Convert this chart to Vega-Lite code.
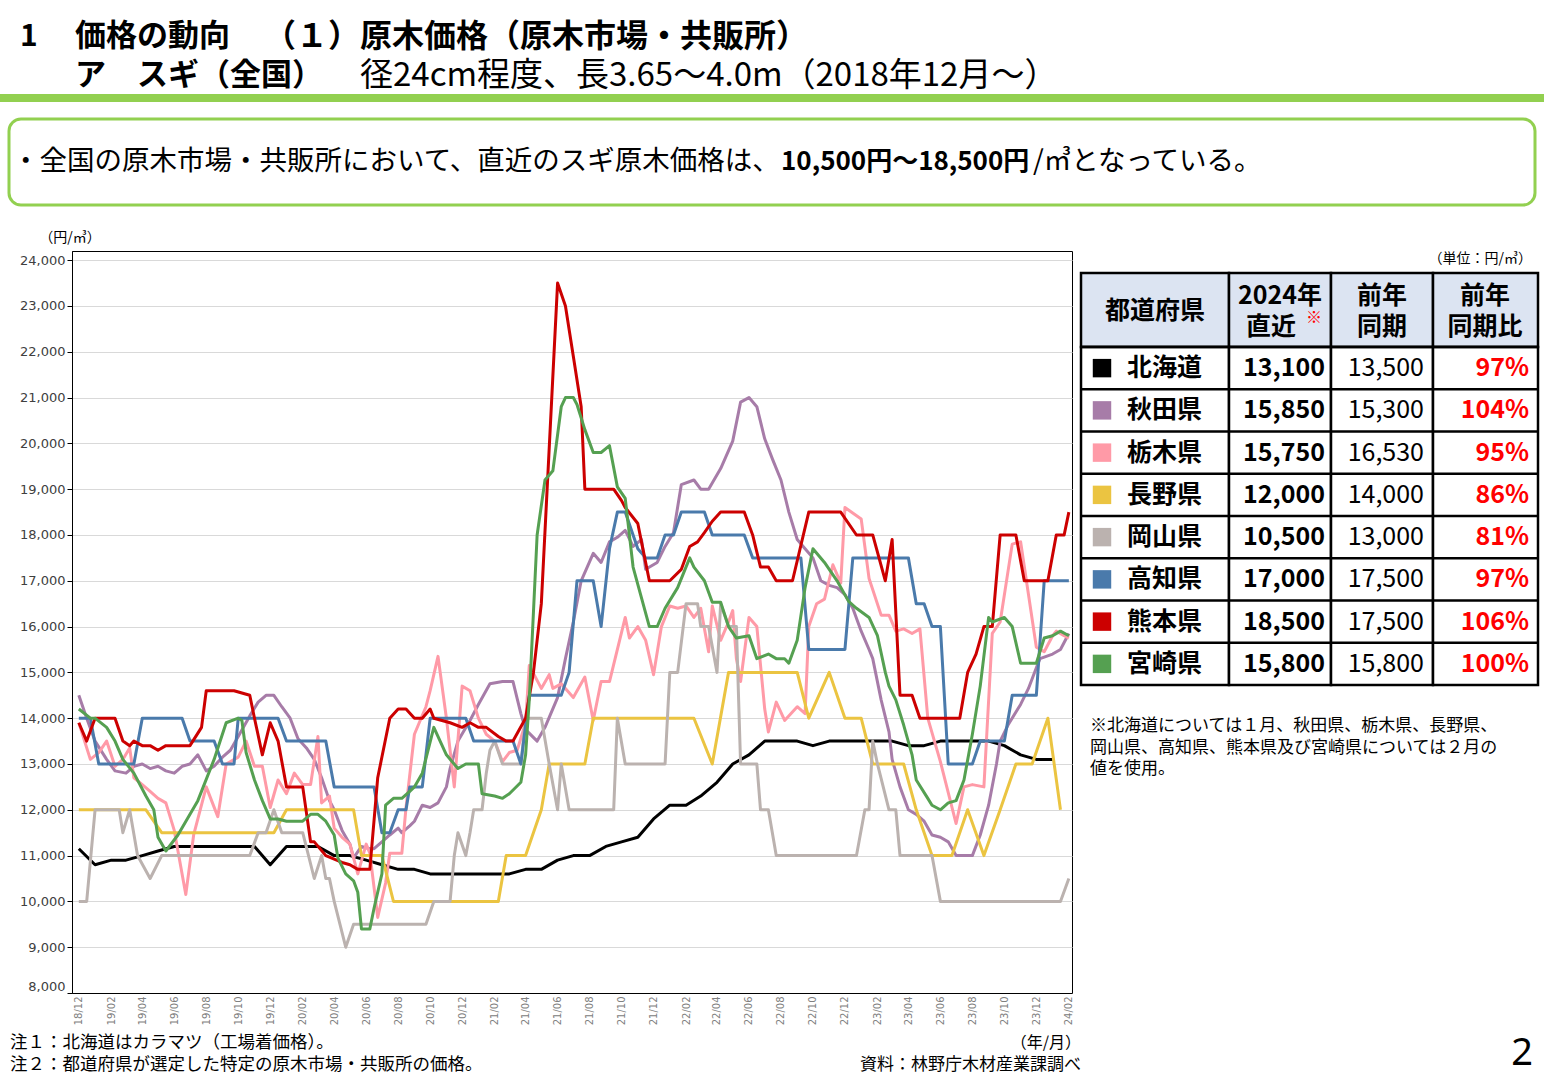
{
"$schema": "https://vega.github.io/schema/vega-lite/v6.json",
"padding": 0,
"background": "white",
"spacing": 0,
"bounds": "flush",
"config": {"font": "Noto Sans CJK JP", "view": {"stroke": null}, "concat": {"spacing": 0}},
"datasets": {
"tbl": [
{"p":"北海道","latest":13100,"prev":13500,"ratio":0.97},
{"p":"秋田県","latest":15850,"prev":15300,"ratio":1.04},
{"p":"栃木県","latest":15750,"prev":16530,"ratio":0.95},
{"p":"長野県","latest":12000,"prev":14000,"ratio":0.86},
{"p":"岡山県","latest":10500,"prev":13000,"ratio":0.81},
{"p":"高知県","latest":17000,"prev":17500,"ratio":0.97},
{"p":"熊本県","latest":18500,"prev":17500,"ratio":1.06},
{"p":"宮崎県","latest":15800,"prev":15800,"ratio":1.00}
],
"prices": [
{"p":"北海道","d":"2018-12-01","v":11150},{"p":"北海道","d":"2019-01-01","v":10800},{"p":"北海道","d":"2019-02-01","v":10900},{"p":"北海道","d":"2019-03-01","v":10900},{"p":"北海道","d":"2019-04-01","v":11000},{"p":"北海道","d":"2019-05-01","v":11100},{"p":"北海道","d":"2019-06-01","v":11200},{"p":"北海道","d":"2019-07-01","v":11200},{"p":"北海道","d":"2019-08-01","v":11200},{"p":"北海道","d":"2019-09-01","v":11200},{"p":"北海道","d":"2019-10-01","v":11200},{"p":"北海道","d":"2019-11-01","v":11200},{"p":"北海道","d":"2019-12-01","v":10800},{"p":"北海道","d":"2020-01-01","v":11200},{"p":"北海道","d":"2020-02-01","v":11200},{"p":"北海道","d":"2020-03-01","v":11200},{"p":"北海道","d":"2020-04-01","v":11000},{"p":"北海道","d":"2020-05-01","v":11000},{"p":"北海道","d":"2020-06-01","v":10900},{"p":"北海道","d":"2020-07-01","v":10800},{"p":"北海道","d":"2020-08-01","v":10700},{"p":"北海道","d":"2020-09-01","v":10700},{"p":"北海道","d":"2020-10-01","v":10600},{"p":"北海道","d":"2020-11-01","v":10600},{"p":"北海道","d":"2020-12-01","v":10600},{"p":"北海道","d":"2021-01-01","v":10600},{"p":"北海道","d":"2021-02-01","v":10600},{"p":"北海道","d":"2021-03-01","v":10600},{"p":"北海道","d":"2021-04-01","v":10700},{"p":"北海道","d":"2021-05-01","v":10700},{"p":"北海道","d":"2021-06-01","v":10900},{"p":"北海道","d":"2021-07-01","v":11000},{"p":"北海道","d":"2021-08-01","v":11000},{"p":"北海道","d":"2021-09-01","v":11200},{"p":"北海道","d":"2021-10-01","v":11300},{"p":"北海道","d":"2021-11-01","v":11400},{"p":"北海道","d":"2021-12-01","v":11800},{"p":"北海道","d":"2022-01-01","v":12100},{"p":"北海道","d":"2022-02-01","v":12100},{"p":"北海道","d":"2022-03-01","v":12300},{"p":"北海道","d":"2022-04-01","v":12600},{"p":"北海道","d":"2022-05-01","v":13000},{"p":"北海道","d":"2022-06-01","v":13200},{"p":"北海道","d":"2022-07-01","v":13500},{"p":"北海道","d":"2022-08-01","v":13500},{"p":"北海道","d":"2022-09-01","v":13500},{"p":"北海道","d":"2022-10-01","v":13400},{"p":"北海道","d":"2022-11-01","v":13500},{"p":"北海道","d":"2022-12-01","v":13500},{"p":"北海道","d":"2023-01-01","v":13500},{"p":"北海道","d":"2023-02-01","v":13500},{"p":"北海道","d":"2023-03-01","v":13500},{"p":"北海道","d":"2023-04-01","v":13400},{"p":"北海道","d":"2023-05-01","v":13400},{"p":"北海道","d":"2023-06-01","v":13500},{"p":"北海道","d":"2023-07-01","v":13500},{"p":"北海道","d":"2023-08-01","v":13500},{"p":"北海道","d":"2023-09-01","v":13500},{"p":"北海道","d":"2023-10-01","v":13400},{"p":"北海道","d":"2023-11-01","v":13200},{"p":"北海道","d":"2023-12-01","v":13100},{"p":"北海道","d":"2024-01-01","v":13100},
{"p":"秋田県","d":"2018-12-01","v":14500},{"p":"秋田県","d":"2018-12-16","v":14000},{"p":"秋田県","d":"2019-01-01","v":13500},{"p":"秋田県","d":"2019-01-23","v":13100},{"p":"秋田県","d":"2019-02-08","v":12850},{"p":"秋田県","d":"2019-03-01","v":12800},{"p":"秋田県","d":"2019-03-16","v":12950},{"p":"秋田県","d":"2019-04-01","v":13000},{"p":"秋田県","d":"2019-04-16","v":12900},{"p":"秋田県","d":"2019-05-01","v":12950},{"p":"秋田県","d":"2019-05-16","v":12850},{"p":"秋田県","d":"2019-06-01","v":12800},{"p":"秋田県","d":"2019-06-16","v":12950},{"p":"秋田県","d":"2019-07-01","v":13000},{"p":"秋田県","d":"2019-07-16","v":13200},{"p":"秋田県","d":"2019-08-01","v":12850},{"p":"秋田県","d":"2019-08-16","v":12950},{"p":"秋田県","d":"2019-09-01","v":13150},{"p":"秋田県","d":"2019-09-16","v":13300},{"p":"秋田県","d":"2019-10-01","v":13600},{"p":"秋田県","d":"2019-10-23","v":14050},{"p":"秋田県","d":"2019-11-08","v":14350},{"p":"秋田県","d":"2019-11-23","v":14500},{"p":"秋田県","d":"2019-12-08","v":14500},{"p":"秋田県","d":"2019-12-23","v":14250},{"p":"秋田県","d":"2020-01-08","v":14000},{"p":"秋田県","d":"2020-01-23","v":13550},{"p":"秋田県","d":"2020-02-08","v":13350},{"p":"秋田県","d":"2020-02-23","v":13100},{"p":"秋田県","d":"2020-03-08","v":12700},{"p":"秋田県","d":"2020-03-23","v":12200},{"p":"秋田県","d":"2020-04-01","v":12000},{"p":"秋田県","d":"2020-04-16","v":11550},{"p":"秋田県","d":"2020-05-01","v":11250},{"p":"秋田県","d":"2020-05-08","v":10950},{"p":"秋田県","d":"2020-05-23","v":11200},{"p":"秋田県","d":"2020-06-08","v":11150},{"p":"秋田県","d":"2020-06-16","v":11150},{"p":"秋田県","d":"2020-07-01","v":11300},{"p":"秋田県","d":"2020-07-16","v":11450},{"p":"秋田県","d":"2020-08-01","v":11600},{"p":"秋田県","d":"2020-08-08","v":11500},{"p":"秋田県","d":"2020-08-23","v":11650},{"p":"秋田県","d":"2020-09-01","v":11750},{"p":"秋田県","d":"2020-09-16","v":12100},{"p":"秋田県","d":"2020-10-01","v":12050},{"p":"秋田県","d":"2020-10-16","v":12150},{"p":"秋田県","d":"2020-11-01","v":12500},{"p":"秋田県","d":"2020-11-08","v":12900},{"p":"秋田県","d":"2020-11-23","v":13500},{"p":"秋田県","d":"2020-12-16","v":13950},{"p":"秋田県","d":"2021-01-01","v":14300},{"p":"秋田県","d":"2021-01-23","v":14750},{"p":"秋田県","d":"2021-02-16","v":14800},{"p":"秋田県","d":"2021-03-08","v":14800},{"p":"秋田県","d":"2021-03-23","v":14100},{"p":"秋田県","d":"2021-04-01","v":13750},{"p":"秋田県","d":"2021-04-23","v":13500},{"p":"秋田県","d":"2021-05-08","v":13800},{"p":"秋田県","d":"2021-06-01","v":14450},{"p":"秋田県","d":"2021-06-16","v":15300},{"p":"秋田県","d":"2021-07-01","v":16100},{"p":"秋田県","d":"2021-07-16","v":17000},{"p":"秋田県","d":"2021-08-08","v":17600},{"p":"秋田県","d":"2021-08-23","v":17400},{"p":"秋田県","d":"2021-09-08","v":17850},{"p":"秋田県","d":"2021-09-23","v":17950},{"p":"秋田県","d":"2021-10-08","v":18100},{"p":"秋田県","d":"2021-10-23","v":17750},{"p":"秋田県","d":"2021-11-08","v":17900},{"p":"秋田県","d":"2021-11-16","v":17250},{"p":"秋田県","d":"2021-12-08","v":17400},{"p":"秋田県","d":"2021-12-23","v":17750},{"p":"秋田県","d":"2022-01-08","v":18050},{"p":"秋田県","d":"2022-01-23","v":19100},{"p":"秋田県","d":"2022-02-16","v":19200},{"p":"秋田県","d":"2022-03-01","v":19000},{"p":"秋田県","d":"2022-03-16","v":19000},{"p":"秋田県","d":"2022-04-08","v":19450},{"p":"秋田県","d":"2022-05-01","v":20050},{"p":"秋田県","d":"2022-05-16","v":20900},{"p":"秋田県","d":"2022-06-01","v":21000},{"p":"秋田県","d":"2022-06-16","v":20800},{"p":"秋田県","d":"2022-07-01","v":20100},{"p":"秋田県","d":"2022-07-16","v":19650},{"p":"秋田県","d":"2022-08-01","v":19200},{"p":"秋田県","d":"2022-08-16","v":18500},{"p":"秋田県","d":"2022-09-01","v":17900},{"p":"秋田県","d":"2022-09-16","v":17700},{"p":"秋田県","d":"2022-10-01","v":17500},{"p":"秋田県","d":"2022-10-16","v":17000},{"p":"秋田県","d":"2022-11-01","v":16900},{"p":"秋田県","d":"2022-11-16","v":16850},{"p":"秋田県","d":"2022-12-01","v":16700},{"p":"秋田県","d":"2022-12-16","v":16400},{"p":"秋田県","d":"2023-01-01","v":15900},{"p":"秋田県","d":"2023-01-16","v":15500},{"p":"秋田県","d":"2023-01-23","v":15300},{"p":"秋田県","d":"2023-02-08","v":14400},{"p":"秋田県","d":"2023-02-23","v":13700},{"p":"秋田県","d":"2023-03-01","v":13100},{"p":"秋田県","d":"2023-03-16","v":12500},{"p":"秋田県","d":"2023-04-01","v":12000},{"p":"秋田県","d":"2023-04-16","v":11900},{"p":"秋田県","d":"2023-05-01","v":11750},{"p":"秋田県","d":"2023-05-16","v":11450},{"p":"秋田県","d":"2023-06-01","v":11400},{"p":"秋田県","d":"2023-06-16","v":11300},{"p":"秋田県","d":"2023-07-01","v":11000},{"p":"秋田県","d":"2023-08-01","v":11000},{"p":"秋田県","d":"2023-08-16","v":11450},{"p":"秋田県","d":"2023-09-01","v":12100},{"p":"秋田県","d":"2023-09-16","v":13000},{"p":"秋田県","d":"2023-09-23","v":13500},{"p":"秋田県","d":"2023-10-08","v":13850},{"p":"秋田県","d":"2023-11-01","v":14300},{"p":"秋田県","d":"2023-11-16","v":14650},{"p":"秋田県","d":"2023-12-01","v":15100},{"p":"秋田県","d":"2023-12-08","v":15300},{"p":"秋田県","d":"2024-01-01","v":15400},{"p":"秋田県","d":"2024-01-16","v":15500},{"p":"秋田県","d":"2024-02-01","v":15850},
{"p":"栃木県","d":"2018-12-01","v":13900},{"p":"栃木県","d":"2018-12-23","v":13100},{"p":"栃木県","d":"2019-01-08","v":13250},{"p":"栃木県","d":"2019-01-23","v":13500},{"p":"栃木県","d":"2019-02-08","v":12950},{"p":"栃木県","d":"2019-02-23","v":13100},{"p":"栃木県","d":"2019-03-08","v":13350},{"p":"栃木県","d":"2019-03-16","v":12700},{"p":"栃木県","d":"2019-04-01","v":12550},{"p":"栃木県","d":"2019-04-16","v":12400},{"p":"栃木県","d":"2019-05-01","v":12250},{"p":"栃木県","d":"2019-05-16","v":12150},{"p":"栃木県","d":"2019-06-01","v":11550},{"p":"栃木県","d":"2019-06-23","v":10150},{"p":"栃木県","d":"2019-07-08","v":11450},{"p":"栃木県","d":"2019-08-01","v":12500},{"p":"栃木県","d":"2019-08-23","v":11850},{"p":"栃木県","d":"2019-09-08","v":13000},{"p":"栃木県","d":"2019-10-01","v":13150},{"p":"栃木県","d":"2019-10-16","v":13500},{"p":"栃木県","d":"2019-11-01","v":12950},{"p":"栃木県","d":"2019-11-16","v":12950},{"p":"栃木県","d":"2019-12-01","v":12050},{"p":"栃木県","d":"2019-12-16","v":12650},{"p":"栃木県","d":"2020-01-01","v":12350},{"p":"栃木県","d":"2020-01-16","v":12800},{"p":"栃木県","d":"2020-02-01","v":12550},{"p":"栃木県","d":"2020-02-16","v":12550},{"p":"栃木県","d":"2020-03-01","v":13600},{"p":"栃木県","d":"2020-03-08","v":12150},{"p":"栃木県","d":"2020-03-23","v":12300},{"p":"栃木県","d":"2020-04-01","v":11600},{"p":"栃木県","d":"2020-04-16","v":11400},{"p":"栃木県","d":"2020-05-01","v":11250},{"p":"栃木県","d":"2020-05-16","v":10600},{"p":"栃木県","d":"2020-06-01","v":11250},{"p":"栃木県","d":"2020-06-08","v":11050},{"p":"栃木県","d":"2020-06-23","v":9650},{"p":"栃木県","d":"2020-07-08","v":10400},{"p":"栃木県","d":"2020-07-16","v":11050},{"p":"栃木県","d":"2020-08-08","v":11050},{"p":"栃木県","d":"2020-08-16","v":12050},{"p":"栃木県","d":"2020-09-01","v":13650},{"p":"栃木県","d":"2020-09-23","v":14250},{"p":"栃木県","d":"2020-10-01","v":14600},{"p":"栃木県","d":"2020-10-16","v":15350},{"p":"栃木県","d":"2020-11-01","v":14000},{"p":"栃木県","d":"2020-11-16","v":12500},{"p":"栃木県","d":"2020-12-01","v":14700},{"p":"栃木県","d":"2020-12-16","v":14600},{"p":"栃木県","d":"2021-01-01","v":14000},{"p":"栃木県","d":"2021-01-16","v":13650},{"p":"栃木県","d":"2021-02-01","v":13500},{"p":"栃木県","d":"2021-02-16","v":13050},{"p":"栃木県","d":"2021-03-01","v":13250},{"p":"栃木県","d":"2021-03-16","v":13300},{"p":"栃木県","d":"2021-04-01","v":13900},{"p":"栃木県","d":"2021-04-08","v":15150},{"p":"栃木県","d":"2021-05-01","v":14650},{"p":"栃木県","d":"2021-05-16","v":14950},{"p":"栃木県","d":"2021-05-23","v":14650},{"p":"栃木県","d":"2021-06-08","v":14750},{"p":"栃木県","d":"2021-07-01","v":14450},{"p":"栃木県","d":"2021-07-23","v":14900},{"p":"栃木県","d":"2021-08-08","v":13950},{"p":"栃木県","d":"2021-08-23","v":14800},{"p":"栃木県","d":"2021-09-08","v":14800},{"p":"栃木県","d":"2021-10-08","v":16200},{"p":"栃木県","d":"2021-10-16","v":15750},{"p":"栃木県","d":"2021-11-01","v":16000},{"p":"栃木県","d":"2021-11-16","v":15700},{"p":"栃木県","d":"2021-12-01","v":14950},{"p":"栃木県","d":"2021-12-16","v":16000},{"p":"栃木県","d":"2022-01-01","v":16450},{"p":"栃木県","d":"2022-01-16","v":16400},{"p":"栃木県","d":"2022-02-01","v":16450},{"p":"栃木県","d":"2022-02-16","v":16200},{"p":"栃木県","d":"2022-03-01","v":16400},{"p":"栃木県","d":"2022-03-16","v":15450},{"p":"栃木県","d":"2022-03-23","v":16450},{"p":"栃木県","d":"2022-04-08","v":15700},{"p":"栃木県","d":"2022-04-23","v":16100},{"p":"栃木県","d":"2022-05-01","v":16350},{"p":"栃木県","d":"2022-05-08","v":15300},{"p":"栃木県","d":"2022-05-16","v":14800},{"p":"栃木県","d":"2022-06-01","v":16200},{"p":"栃木県","d":"2022-06-16","v":16000},{"p":"栃木県","d":"2022-07-01","v":14200},{"p":"栃木県","d":"2022-07-08","v":13700},{"p":"栃木県","d":"2022-07-23","v":14350},{"p":"栃木県","d":"2022-08-08","v":13950},{"p":"栃木県","d":"2022-09-01","v":14250},{"p":"栃木県","d":"2022-09-16","v":14100},{"p":"栃木県","d":"2022-09-23","v":16000},{"p":"栃木県","d":"2022-10-08","v":16500},{"p":"栃木県","d":"2022-10-23","v":16600},{"p":"栃木県","d":"2022-11-08","v":17350},{"p":"栃木県","d":"2022-11-23","v":16950},{"p":"栃木県","d":"2022-12-01","v":18600},{"p":"栃木県","d":"2023-01-01","v":18350},{"p":"栃木県","d":"2023-01-16","v":17050},{"p":"栃木県","d":"2023-02-08","v":16250},{"p":"栃木県","d":"2023-02-23","v":16250},{"p":"栃木県","d":"2023-03-08","v":15900},{"p":"栃木県","d":"2023-03-23","v":15950},{"p":"栃木県","d":"2023-04-08","v":15850},{"p":"栃木県","d":"2023-04-23","v":15950},{"p":"栃木県","d":"2023-05-08","v":14000},{"p":"栃木県","d":"2023-06-01","v":13050},{"p":"栃木県","d":"2023-07-01","v":11700},{"p":"栃木県","d":"2023-07-16","v":12500},{"p":"栃木県","d":"2023-08-01","v":12550},{"p":"栃木県","d":"2023-08-23","v":12500},{"p":"栃木県","d":"2023-09-08","v":15850},{"p":"栃木県","d":"2023-09-23","v":16100},{"p":"栃木県","d":"2023-10-16","v":17800},{"p":"栃木県","d":"2023-11-01","v":17850},{"p":"栃木県","d":"2023-11-16","v":16700},{"p":"栃木県","d":"2023-12-01","v":15550},{"p":"栃木県","d":"2023-12-16","v":15450},{"p":"栃木県","d":"2024-01-01","v":15800},{"p":"栃木県","d":"2024-01-08","v":15900},{"p":"栃木県","d":"2024-01-23","v":15800},{"p":"栃木県","d":"2024-02-01","v":15750},
{"p":"長野県","d":"2018-12-01","v":12000},{"p":"長野県","d":"2019-04-08","v":12000},{"p":"長野県","d":"2019-05-08","v":11500},{"p":"長野県","d":"2019-12-08","v":11500},{"p":"長野県","d":"2020-01-01","v":12000},{"p":"長野県","d":"2020-05-08","v":12000},{"p":"長野県","d":"2020-05-23","v":11000},{"p":"長野県","d":"2020-07-01","v":11000},{"p":"長野県","d":"2020-07-23","v":10000},{"p":"長野県","d":"2021-02-08","v":10000},{"p":"長野県","d":"2021-02-23","v":11000},{"p":"長野県","d":"2021-04-01","v":11000},{"p":"長野県","d":"2021-05-01","v":12000},{"p":"長野県","d":"2021-05-16","v":13000},{"p":"長野県","d":"2021-07-23","v":13000},{"p":"長野県","d":"2021-08-08","v":14000},{"p":"長野県","d":"2022-02-16","v":14000},{"p":"長野県","d":"2022-03-23","v":13000},{"p":"長野県","d":"2022-04-23","v":15000},{"p":"長野県","d":"2022-09-01","v":15000},{"p":"長野県","d":"2022-09-23","v":14000},{"p":"長野県","d":"2022-11-01","v":15000},{"p":"長野県","d":"2022-12-01","v":14000},{"p":"長野県","d":"2023-01-01","v":14000},{"p":"長野県","d":"2023-01-23","v":13000},{"p":"長野県","d":"2023-03-23","v":13000},{"p":"長野県","d":"2023-04-16","v":12000},{"p":"長野県","d":"2023-05-16","v":11000},{"p":"長野県","d":"2023-06-23","v":11000},{"p":"長野県","d":"2023-07-23","v":12000},{"p":"長野県","d":"2023-08-23","v":11000},{"p":"長野県","d":"2023-09-23","v":12000},{"p":"長野県","d":"2023-10-23","v":13000},{"p":"長野県","d":"2023-11-23","v":13000},{"p":"長野県","d":"2023-12-23","v":14000},{"p":"長野県","d":"2024-01-16","v":12000},
{"p":"岡山県","d":"2018-12-01","v":10000},{"p":"岡山県","d":"2018-12-16","v":10000},{"p":"岡山県","d":"2019-01-01","v":12000},{"p":"岡山県","d":"2019-02-16","v":12000},{"p":"岡山県","d":"2019-02-23","v":11500},{"p":"岡山県","d":"2019-03-08","v":12000},{"p":"岡山県","d":"2019-03-23","v":11000},{"p":"岡山県","d":"2019-04-16","v":10500},{"p":"岡山県","d":"2019-05-08","v":11000},{"p":"岡山県","d":"2019-10-23","v":11000},{"p":"岡山県","d":"2019-11-08","v":11500},{"p":"岡山県","d":"2019-11-23","v":11500},{"p":"岡山県","d":"2019-12-08","v":12000},{"p":"岡山県","d":"2019-12-23","v":11500},{"p":"岡山県","d":"2020-02-01","v":11500},{"p":"岡山県","d":"2020-02-23","v":10500},{"p":"岡山県","d":"2020-03-08","v":11000},{"p":"岡山県","d":"2020-03-16","v":10500},{"p":"岡山県","d":"2020-03-23","v":10500},{"p":"岡山県","d":"2020-04-01","v":10000},{"p":"岡山県","d":"2020-04-23","v":9000},{"p":"岡山県","d":"2020-05-08","v":9500},{"p":"岡山県","d":"2020-09-23","v":9500},{"p":"岡山県","d":"2020-10-08","v":10000},{"p":"岡山県","d":"2020-11-08","v":10000},{"p":"岡山県","d":"2020-11-16","v":11000},{"p":"岡山県","d":"2020-11-23","v":11500},{"p":"岡山県","d":"2020-12-08","v":11000},{"p":"岡山県","d":"2020-12-16","v":11500},{"p":"岡山県","d":"2020-12-23","v":12000},{"p":"岡山県","d":"2021-01-08","v":12000},{"p":"岡山県","d":"2021-01-16","v":12800},{"p":"岡山県","d":"2021-01-23","v":13300},{"p":"岡山県","d":"2021-02-01","v":13500},{"p":"岡山県","d":"2021-02-16","v":13000},{"p":"岡山県","d":"2021-03-23","v":13000},{"p":"岡山県","d":"2021-04-01","v":14000},{"p":"岡山県","d":"2021-05-01","v":14000},{"p":"岡山県","d":"2021-05-16","v":13000},{"p":"岡山県","d":"2021-06-01","v":12000},{"p":"岡山県","d":"2021-06-08","v":13000},{"p":"岡山県","d":"2021-06-23","v":12000},{"p":"岡山県","d":"2021-09-16","v":12000},{"p":"岡山県","d":"2021-09-23","v":14000},{"p":"岡山県","d":"2021-10-08","v":13000},{"p":"岡山県","d":"2021-12-23","v":13000},{"p":"岡山県","d":"2022-01-01","v":15000},{"p":"岡山県","d":"2022-01-16","v":15000},{"p":"岡山県","d":"2022-02-01","v":16500},{"p":"岡山県","d":"2022-02-23","v":16500},{"p":"岡山県","d":"2022-03-01","v":16000},{"p":"岡山県","d":"2022-03-16","v":16000},{"p":"岡山県","d":"2022-04-01","v":15000},{"p":"岡山県","d":"2022-04-08","v":16500},{"p":"岡山県","d":"2022-04-23","v":16000},{"p":"岡山県","d":"2022-05-08","v":16000},{"p":"岡山県","d":"2022-05-16","v":13000},{"p":"岡山県","d":"2022-06-16","v":13000},{"p":"岡山県","d":"2022-06-23","v":12000},{"p":"岡山県","d":"2022-07-08","v":12000},{"p":"岡山県","d":"2022-07-23","v":11000},{"p":"岡山県","d":"2022-12-23","v":11000},{"p":"岡山県","d":"2023-01-08","v":12000},{"p":"岡山県","d":"2023-01-16","v":12000},{"p":"岡山県","d":"2023-01-23","v":13500},{"p":"岡山県","d":"2023-02-01","v":13000},{"p":"岡山県","d":"2023-02-23","v":12000},{"p":"岡山県","d":"2023-03-08","v":12000},{"p":"岡山県","d":"2023-03-16","v":11000},{"p":"岡山県","d":"2023-05-16","v":11000},{"p":"岡山県","d":"2023-06-01","v":10000},{"p":"岡山県","d":"2024-01-16","v":10000},{"p":"岡山県","d":"2024-02-01","v":10500},
{"p":"高知県","d":"2018-12-01","v":14000},{"p":"高知県","d":"2018-12-23","v":14000},{"p":"高知県","d":"2019-01-08","v":13000},{"p":"高知県","d":"2019-03-16","v":13000},{"p":"高知県","d":"2019-04-01","v":14000},{"p":"高知県","d":"2019-06-16","v":14000},{"p":"高知県","d":"2019-07-01","v":13500},{"p":"高知県","d":"2019-08-16","v":13500},{"p":"高知県","d":"2019-09-01","v":13000},{"p":"高知県","d":"2019-09-23","v":13000},{"p":"高知県","d":"2019-10-01","v":14000},{"p":"高知県","d":"2019-12-16","v":14000},{"p":"高知県","d":"2020-01-01","v":13500},{"p":"高知県","d":"2020-03-16","v":13500},{"p":"高知県","d":"2020-04-01","v":12500},{"p":"高知県","d":"2020-06-16","v":12500},{"p":"高知県","d":"2020-07-01","v":11500},{"p":"高知県","d":"2020-07-16","v":11500},{"p":"高知県","d":"2020-08-01","v":12000},{"p":"高知県","d":"2020-08-16","v":12000},{"p":"高知県","d":"2020-08-23","v":12500},{"p":"高知県","d":"2020-09-16","v":12500},{"p":"高知県","d":"2020-10-01","v":14000},{"p":"高知県","d":"2020-12-08","v":14000},{"p":"高知県","d":"2020-12-23","v":13500},{"p":"高知県","d":"2021-03-08","v":13500},{"p":"高知県","d":"2021-03-23","v":13000},{"p":"高知県","d":"2021-04-08","v":14500},{"p":"高知県","d":"2021-06-08","v":14500},{"p":"高知県","d":"2021-06-23","v":15000},{"p":"高知県","d":"2021-07-08","v":17000},{"p":"高知県","d":"2021-08-08","v":17000},{"p":"高知県","d":"2021-08-23","v":16000},{"p":"高知県","d":"2021-09-08","v":17700},{"p":"高知県","d":"2021-09-23","v":18500},{"p":"高知県","d":"2021-10-08","v":18500},{"p":"高知県","d":"2021-10-23","v":18000},{"p":"高知県","d":"2021-11-01","v":17700},{"p":"高知県","d":"2021-11-16","v":17500},{"p":"高知県","d":"2021-12-08","v":17500},{"p":"高知県","d":"2021-12-23","v":18000},{"p":"高知県","d":"2022-01-08","v":18000},{"p":"高知県","d":"2022-01-23","v":18500},{"p":"高知県","d":"2022-03-08","v":18500},{"p":"高知県","d":"2022-03-23","v":18000},{"p":"高知県","d":"2022-05-23","v":18000},{"p":"高知県","d":"2022-06-08","v":17500},{"p":"高知県","d":"2022-09-08","v":17500},{"p":"高知県","d":"2022-09-23","v":15500},{"p":"高知県","d":"2022-12-01","v":15500},{"p":"高知県","d":"2022-12-16","v":17500},{"p":"高知県","d":"2023-04-01","v":17500},{"p":"高知県","d":"2023-04-16","v":16500},{"p":"高知県","d":"2023-05-01","v":16500},{"p":"高知県","d":"2023-05-16","v":16000},{"p":"高知県","d":"2023-06-01","v":16000},{"p":"高知県","d":"2023-06-16","v":13000},{"p":"高知県","d":"2023-08-01","v":13000},{"p":"高知県","d":"2023-08-16","v":13500},{"p":"高知県","d":"2023-10-01","v":13500},{"p":"高知県","d":"2023-10-16","v":14500},{"p":"高知県","d":"2023-12-01","v":14500},{"p":"高知県","d":"2023-12-16","v":17000},{"p":"高知県","d":"2024-02-01","v":17000},
{"p":"熊本県","d":"2018-12-01","v":13900},{"p":"熊本県","d":"2018-12-16","v":13500},{"p":"熊本県","d":"2019-01-01","v":14000},{"p":"熊本県","d":"2019-02-08","v":14000},{"p":"熊本県","d":"2019-02-23","v":13500},{"p":"熊本県","d":"2019-03-08","v":13400},{"p":"熊本県","d":"2019-03-16","v":13500},{"p":"熊本県","d":"2019-04-01","v":13400},{"p":"熊本県","d":"2019-04-16","v":13400},{"p":"熊本県","d":"2019-05-01","v":13300},{"p":"熊本県","d":"2019-05-16","v":13400},{"p":"熊本県","d":"2019-07-01","v":13400},{"p":"熊本県","d":"2019-07-23","v":13800},{"p":"熊本県","d":"2019-08-01","v":14600},{"p":"熊本県","d":"2019-09-23","v":14600},{"p":"熊本県","d":"2019-10-08","v":14550},{"p":"熊本県","d":"2019-10-23","v":14500},{"p":"熊本県","d":"2019-11-01","v":14000},{"p":"熊本県","d":"2019-11-16","v":13200},{"p":"熊本県","d":"2019-12-01","v":13900},{"p":"熊本県","d":"2019-12-16","v":13500},{"p":"熊本県","d":"2020-01-01","v":12500},{"p":"熊本県","d":"2020-02-01","v":12500},{"p":"熊本県","d":"2020-02-16","v":11300},{"p":"熊本県","d":"2020-02-23","v":11300},{"p":"熊本県","d":"2020-03-16","v":11000},{"p":"熊本県","d":"2020-04-16","v":10850},{"p":"熊本県","d":"2020-05-01","v":10800},{"p":"熊本県","d":"2020-05-16","v":10700},{"p":"熊本県","d":"2020-06-08","v":10700},{"p":"熊本県","d":"2020-06-23","v":12700},{"p":"熊本県","d":"2020-07-16","v":14000},{"p":"熊本県","d":"2020-08-01","v":14200},{"p":"熊本県","d":"2020-08-16","v":14200},{"p":"熊本県","d":"2020-09-01","v":14000},{"p":"熊本県","d":"2020-09-16","v":14000},{"p":"熊本県","d":"2020-10-01","v":14200},{"p":"熊本県","d":"2020-10-08","v":14000},{"p":"熊本県","d":"2020-11-08","v":13900},{"p":"熊本県","d":"2020-12-01","v":13800},{"p":"熊本県","d":"2020-12-16","v":13900},{"p":"熊本県","d":"2021-01-01","v":13800},{"p":"熊本県","d":"2021-01-16","v":13800},{"p":"熊本県","d":"2021-02-08","v":13600},{"p":"熊本県","d":"2021-02-23","v":13500},{"p":"熊本県","d":"2021-03-08","v":13500},{"p":"熊本県","d":"2021-04-01","v":14000},{"p":"熊本県","d":"2021-04-16","v":15000},{"p":"熊本県","d":"2021-05-01","v":16500},{"p":"熊本県","d":"2021-06-01","v":23500},{"p":"熊本県","d":"2021-06-16","v":23000},{"p":"熊本県","d":"2021-07-01","v":21900},{"p":"熊本県","d":"2021-07-16","v":20800},{"p":"熊本県","d":"2021-07-23","v":19000},{"p":"熊本県","d":"2021-09-16","v":19000},{"p":"熊本県","d":"2021-10-01","v":18750},{"p":"熊本県","d":"2021-10-08","v":18600},{"p":"熊本県","d":"2021-11-01","v":18250},{"p":"熊本県","d":"2021-11-08","v":17850},{"p":"熊本県","d":"2021-11-23","v":17000},{"p":"熊本県","d":"2022-01-01","v":17000},{"p":"熊本県","d":"2022-01-23","v":17250},{"p":"熊本県","d":"2022-02-08","v":17750},{"p":"熊本県","d":"2022-02-23","v":17850},{"p":"熊本県","d":"2022-03-08","v":18050},{"p":"熊本県","d":"2022-03-23","v":18300},{"p":"熊本県","d":"2022-04-08","v":18500},{"p":"熊本県","d":"2022-05-23","v":18500},{"p":"熊本県","d":"2022-06-08","v":18000},{"p":"熊本県","d":"2022-06-23","v":17300},{"p":"熊本県","d":"2022-07-08","v":17300},{"p":"熊本県","d":"2022-07-23","v":17000},{"p":"熊本県","d":"2022-08-23","v":17000},{"p":"熊本県","d":"2022-09-23","v":18500},{"p":"熊本県","d":"2022-11-23","v":18500},{"p":"熊本県","d":"2022-12-23","v":18000},{"p":"熊本県","d":"2023-01-23","v":18000},{"p":"熊本県","d":"2023-02-16","v":17000},{"p":"熊本県","d":"2023-03-01","v":17900},{"p":"熊本県","d":"2023-03-16","v":14500},{"p":"熊本県","d":"2023-04-08","v":14500},{"p":"熊本県","d":"2023-04-23","v":14000},{"p":"熊本県","d":"2023-07-08","v":14000},{"p":"熊本県","d":"2023-07-23","v":15000},{"p":"熊本県","d":"2023-08-08","v":15400},{"p":"熊本県","d":"2023-08-23","v":16000},{"p":"熊本県","d":"2023-09-08","v":16000},{"p":"熊本県","d":"2023-09-23","v":18000},{"p":"熊本県","d":"2023-10-23","v":18000},{"p":"熊本県","d":"2023-11-08","v":17000},{"p":"熊本県","d":"2023-12-23","v":17000},{"p":"熊本県","d":"2024-01-08","v":18000},{"p":"熊本県","d":"2024-01-23","v":18000},{"p":"熊本県","d":"2024-02-01","v":18500},
{"p":"宮崎県","d":"2018-12-01","v":14200},{"p":"宮崎県","d":"2018-12-23","v":14000},{"p":"宮崎県","d":"2019-01-01","v":14000},{"p":"宮崎県","d":"2019-01-23","v":13800},{"p":"宮崎県","d":"2019-02-08","v":13500},{"p":"宮崎県","d":"2019-02-23","v":13100},{"p":"宮崎県","d":"2019-03-16","v":12800},{"p":"宮崎県","d":"2019-04-08","v":12300},{"p":"宮崎県","d":"2019-04-23","v":12000},{"p":"宮崎県","d":"2019-05-01","v":11400},{"p":"宮崎県","d":"2019-05-16","v":11100},{"p":"宮崎県","d":"2019-06-08","v":11450},{"p":"宮崎県","d":"2019-07-16","v":12200},{"p":"宮崎県","d":"2019-08-16","v":13100},{"p":"宮崎県","d":"2019-09-08","v":13900},{"p":"宮崎県","d":"2019-10-01","v":14000},{"p":"宮崎県","d":"2019-10-08","v":13950},{"p":"宮崎県","d":"2019-10-16","v":13250},{"p":"宮崎県","d":"2019-11-01","v":12650},{"p":"宮崎県","d":"2019-11-16","v":12200},{"p":"宮崎県","d":"2019-12-01","v":11800},{"p":"宮崎県","d":"2019-12-16","v":11800},{"p":"宮崎県","d":"2020-01-01","v":11750},{"p":"宮崎県","d":"2020-02-01","v":11750},{"p":"宮崎県","d":"2020-02-16","v":11900},{"p":"宮崎県","d":"2020-03-01","v":11900},{"p":"宮崎県","d":"2020-03-16","v":11750},{"p":"宮崎県","d":"2020-04-01","v":11450},{"p":"宮崎県","d":"2020-04-08","v":10950},{"p":"宮崎県","d":"2020-04-23","v":10600},{"p":"宮崎県","d":"2020-05-08","v":10450},{"p":"宮崎県","d":"2020-05-16","v":10200},{"p":"宮崎県","d":"2020-05-23","v":9400},{"p":"宮崎県","d":"2020-06-08","v":9400},{"p":"宮崎県","d":"2020-06-16","v":9850},{"p":"宮崎県","d":"2020-07-01","v":10600},{"p":"宮崎県","d":"2020-07-08","v":12100},{"p":"宮崎県","d":"2020-07-23","v":12250},{"p":"宮崎県","d":"2020-08-08","v":12250},{"p":"宮崎県","d":"2020-08-23","v":12400},{"p":"宮崎県","d":"2020-09-01","v":12500},{"p":"宮崎県","d":"2020-09-16","v":12800},{"p":"宮崎県","d":"2020-10-08","v":13800},{"p":"宮崎県","d":"2020-11-01","v":13200},{"p":"宮崎県","d":"2020-11-23","v":12900},{"p":"宮崎県","d":"2020-12-08","v":13000},{"p":"宮崎県","d":"2021-01-01","v":13000},{"p":"宮崎県","d":"2021-01-08","v":12350},{"p":"宮崎県","d":"2021-02-01","v":12300},{"p":"宮崎県","d":"2021-02-16","v":12250},{"p":"宮崎県","d":"2021-03-01","v":12350},{"p":"宮崎県","d":"2021-03-23","v":12600},{"p":"宮崎県","d":"2021-04-01","v":13200},{"p":"宮崎県","d":"2021-04-08","v":14400},{"p":"宮崎県","d":"2021-04-23","v":18000},{"p":"宮崎県","d":"2021-05-08","v":19200},{"p":"宮崎県","d":"2021-05-23","v":19400},{"p":"宮崎県","d":"2021-06-08","v":20800},{"p":"宮崎県","d":"2021-06-16","v":21000},{"p":"宮崎県","d":"2021-07-01","v":21000},{"p":"宮崎県","d":"2021-07-08","v":20850},{"p":"宮崎県","d":"2021-07-23","v":20300},{"p":"宮崎県","d":"2021-08-08","v":19800},{"p":"宮崎県","d":"2021-08-23","v":19800},{"p":"宮崎県","d":"2021-09-08","v":19950},{"p":"宮崎県","d":"2021-09-23","v":19050},{"p":"宮崎県","d":"2021-10-08","v":18800},{"p":"宮崎県","d":"2021-10-23","v":17300},{"p":"宮崎県","d":"2021-11-23","v":16000},{"p":"宮崎県","d":"2021-12-08","v":16000},{"p":"宮崎県","d":"2021-12-23","v":16400},{"p":"宮崎県","d":"2022-01-16","v":16850},{"p":"宮崎県","d":"2022-02-08","v":17500},{"p":"宮崎県","d":"2022-02-16","v":17300},{"p":"宮崎県","d":"2022-03-08","v":17000},{"p":"宮崎県","d":"2022-03-23","v":16530},{"p":"宮崎県","d":"2022-04-08","v":16530},{"p":"宮崎県","d":"2022-04-23","v":16000},{"p":"宮崎県","d":"2022-05-08","v":15750},{"p":"宮崎県","d":"2022-06-01","v":15800},{"p":"宮崎県","d":"2022-06-16","v":15300},{"p":"宮崎県","d":"2022-07-08","v":15400},{"p":"宮崎県","d":"2022-07-23","v":15300},{"p":"宮崎県","d":"2022-08-08","v":15300},{"p":"宮崎県","d":"2022-08-16","v":15200},{"p":"宮崎県","d":"2022-09-01","v":15700},{"p":"宮崎県","d":"2022-09-16","v":16850},{"p":"宮崎県","d":"2022-10-01","v":17700},{"p":"宮崎県","d":"2022-10-23","v":17400},{"p":"宮崎県","d":"2022-11-16","v":17000},{"p":"宮崎県","d":"2022-12-08","v":16550},{"p":"宮崎県","d":"2022-12-23","v":16400},{"p":"宮崎県","d":"2023-01-16","v":16200},{"p":"宮崎県","d":"2023-02-01","v":15800},{"p":"宮崎県","d":"2023-02-16","v":15000},{"p":"宮崎県","d":"2023-02-23","v":14700},{"p":"宮崎県","d":"2023-03-08","v":14400},{"p":"宮崎県","d":"2023-03-23","v":13850},{"p":"宮崎県","d":"2023-04-08","v":13200},{"p":"宮崎県","d":"2023-04-16","v":12650},{"p":"宮崎県","d":"2023-05-08","v":12250},{"p":"宮崎県","d":"2023-05-16","v":12100},{"p":"宮崎県","d":"2023-06-01","v":12000},{"p":"宮崎県","d":"2023-06-16","v":12150},{"p":"宮崎県","d":"2023-07-01","v":12200},{"p":"宮崎県","d":"2023-07-16","v":12650},{"p":"宮崎県","d":"2023-08-01","v":13650},{"p":"宮崎県","d":"2023-08-16","v":14700},{"p":"宮崎県","d":"2023-09-01","v":16200},{"p":"宮崎県","d":"2023-09-08","v":16100},{"p":"宮崎県","d":"2023-10-01","v":16200},{"p":"宮崎県","d":"2023-10-16","v":16000},{"p":"宮崎県","d":"2023-11-01","v":15200},{"p":"宮崎県","d":"2023-12-01","v":15200},{"p":"宮崎県","d":"2023-12-16","v":15750},{"p":"宮崎県","d":"2024-01-01","v":15800},{"p":"宮崎県","d":"2024-01-16","v":15900},{"p":"宮崎県","d":"2024-02-01","v":15800}
]
},
"vconcat": [
{
"width": 1544, "height": 251,
"layer": [
{"data": {"values": [{"k": "page"}]}, "mark": {"type": "rect", "fill": "white"}, "encoding": {"x": {"value": 0}, "x2": {"value": 1544}, "y": {"value": 0}, "y2": {"value": 1092}}},
{"data": {"values": [{"k": "bar"}]}, "mark": {"type": "rect", "color": "#92D050"}, "encoding": {"x": {"value": 0}, "x2": {"value": 1544}, "y": {"value": 94}, "y2": {"value": 102}}},
{"data": {"values": [{"k": "box"}]}, "mark": {"type": "rect", "fill": "white", "stroke": "#92D050", "strokeWidth": 3, "cornerRadius": 12}, "encoding": {"x": {"value": 9}, "x2": {"value": 1535}, "y": {"value": 119}, "y2": {"value": 205}}},
{"data": {"values": [{"t": "1"}]}, "mark": {"type": "text", "align": "left", "baseline": "middle", "fontSize": 30, "fontWeight": "bold", "color": "black"}, "encoding": {"text": {"field": "t"}, "x": {"value": 20}, "y": {"value": 37}}},
{"data": {"values": [{"t": "価格の動向"}]}, "mark": {"type": "text", "align": "left", "baseline": "middle", "fontSize": 31, "fontWeight": "bold", "color": "black"}, "encoding": {"text": {"field": "t"}, "x": {"value": 75}, "y": {"value": 37}}},
{"data": {"values": [{"t": "（１）原木価格（原木市場・共販所）"}]}, "mark": {"type": "text", "align": "left", "baseline": "middle", "fontSize": 32, "fontWeight": "bold", "color": "black"}, "encoding": {"text": {"field": "t"}, "x": {"value": 264}, "y": {"value": 37}}},
{"data": {"values": [{"t": "ア　スギ（全国）"}]}, "mark": {"type": "text", "align": "left", "baseline": "middle", "fontSize": 31, "fontWeight": "bold", "color": "black"}, "encoding": {"text": {"field": "t"}, "x": {"value": 75}, "y": {"value": 76}}},
{"data": {"values": [{"t": "径24cm程度、長3.65～4.0m（2018年12月～）"}]}, "mark": {"type": "text", "align": "left", "baseline": "middle", "fontSize": 33, "fontWeight": "normal", "color": "black"}, "encoding": {"text": {"field": "t"}, "x": {"value": 360}, "y": {"value": 76}}},
{"data": {"values": [{"t": "・全国の原木市場・共販所において、直近のスギ原木価格は、"}]}, "mark": {"type": "text", "align": "left", "baseline": "middle", "fontSize": 27.5, "color": "black"}, "encoding": {"text": {"field": "t"}, "x": {"value": 12}, "y": {"value": 162}}},
{"data": {"values": [{"t": "10,500円～18,500円"}]}, "mark": {"type": "text", "align": "left", "baseline": "middle", "fontSize": 26, "fontWeight": "bold", "color": "black"}, "encoding": {"text": {"field": "t"}, "x": {"value": 781}, "y": {"value": 162}}},
{"data": {"values": [{"t": "/㎥となっている。"}]}, "mark": {"type": "text", "align": "left", "baseline": "middle", "fontSize": 27.5, "color": "black"}, "encoding": {"text": {"field": "t"}, "x": {"value": 1033}, "y": {"value": 162}}},
{"data": {"values": [{"t": "（円/㎥）"}]}, "mark": {"type": "text", "align": "center", "baseline": "middle", "fontSize": 14, "color": "black"}, "encoding": {"text": {"field": "t"}, "x": {"value": 70}, "y": {"value": 238}}},
{"data": {"values": [{"t": "注１：北海道はカラマツ（工場着価格）。"}]}, "mark": {"type": "text", "align": "left", "baseline": "middle", "fontSize": 17.5, "color": "black"}, "encoding": {"text": {"field": "t"}, "x": {"value": 10}, "y": {"value": 1043}}},
{"data": {"values": [{"t": "注２：都道府県が選定した特定の原木市場・共販所の価格。"}]}, "mark": {"type": "text", "align": "left", "baseline": "middle", "fontSize": 17.5, "color": "black"}, "encoding": {"text": {"field": "t"}, "x": {"value": 10}, "y": {"value": 1065}}},
{"data": {"values": [{"t": "（年/月）"}]}, "mark": {"type": "text", "align": "right", "baseline": "middle", "fontSize": 16, "color": "black"}, "encoding": {"text": {"field": "t"}, "x": {"value": 1081}, "y": {"value": 1043}}},
{"data": {"values": [{"t": "資料：林野庁木材産業課調べ"}]}, "mark": {"type": "text", "align": "right", "baseline": "middle", "fontSize": 17, "color": "black"}, "encoding": {"text": {"field": "t"}, "x": {"value": 1081}, "y": {"value": 1065}}},
{"data": {"values": [{"t": "2"}]}, "mark": {"type": "text", "align": "center", "baseline": "middle", "fontSize": 38, "font": "Noto Sans", "color": "black"}, "encoding": {"text": {"field": "t"}, "x": {"value": 1522}, "y": {"value": 1054}}}
]
},
{
"hconcat": [
{"width": 72, "height": 742, "data": {"values": []}, "mark": "point"},
{
"width": 1000, "height": 742,
"view": {"stroke": "black", "strokeWidth": 1},
"data": {"name": "prices"},
"mark": {"type": "line", "strokeWidth": 3, "strokeJoin": "round"},
"encoding": {
"x": {"field": "d", "type": "temporal",
"scale": {"type": "utc", "domain": [{"year": 2018, "month": 11, "date": 18, "utc": true}, {"year": 2024, "month": 2, "date": 7, "utc": true}]},
"axis": {"title": null, "format": "%y/%m", "labelAngle": -90, "labelFont": "DejaVu Sans", "labelFontSize": 10, "labelColor": "#808080", "ticks": false, "grid": false, "domainColor": "black", "labelPadding": 3, "labelOverlap": false,
"values": [
{"year": 2018, "month": 12, "date": 1, "utc": true},
{"year": 2019, "month": 2, "date": 1, "utc": true},{"year": 2019, "month": 4, "date": 1, "utc": true},{"year": 2019, "month": 6, "date": 1, "utc": true},{"year": 2019, "month": 8, "date": 1, "utc": true},{"year": 2019, "month": 10, "date": 1, "utc": true},{"year": 2019, "month": 12, "date": 1, "utc": true},
{"year": 2020, "month": 2, "date": 1, "utc": true},{"year": 2020, "month": 4, "date": 1, "utc": true},{"year": 2020, "month": 6, "date": 1, "utc": true},{"year": 2020, "month": 8, "date": 1, "utc": true},{"year": 2020, "month": 10, "date": 1, "utc": true},{"year": 2020, "month": 12, "date": 1, "utc": true},
{"year": 2021, "month": 2, "date": 1, "utc": true},{"year": 2021, "month": 4, "date": 1, "utc": true},{"year": 2021, "month": 6, "date": 1, "utc": true},{"year": 2021, "month": 8, "date": 1, "utc": true},{"year": 2021, "month": 10, "date": 1, "utc": true},{"year": 2021, "month": 12, "date": 1, "utc": true},
{"year": 2022, "month": 2, "date": 1, "utc": true},{"year": 2022, "month": 4, "date": 1, "utc": true},{"year": 2022, "month": 6, "date": 1, "utc": true},{"year": 2022, "month": 8, "date": 1, "utc": true},{"year": 2022, "month": 10, "date": 1, "utc": true},{"year": 2022, "month": 12, "date": 1, "utc": true},
{"year": 2023, "month": 2, "date": 1, "utc": true},{"year": 2023, "month": 4, "date": 1, "utc": true},{"year": 2023, "month": 6, "date": 1, "utc": true},{"year": 2023, "month": 8, "date": 1, "utc": true},{"year": 2023, "month": 10, "date": 1, "utc": true},{"year": 2023, "month": 12, "date": 1, "utc": true},
{"year": 2024, "month": 2, "date": 1, "utc": true}
]}},
"y": {"field": "v", "type": "quantitative",
"scale": {"domain": [8000, 24200], "nice": false, "zero": false},
"axis": {"title": null, "values": [8000,9000,10000,11000,12000,13000,14000,15000,16000,17000,18000,19000,20000,21000,22000,23000,24000], "format": ",d", "grid": true, "gridColor": "#D9D9D9", "domainColor": "black", "tickColor": "black", "tickSize": 5, "labelFont": "DejaVu Sans", "labelFontSize": 13, "labelColor": "#404040", "labelPadding": 2, "labelFlush": 1}},
"color": {"field": "p", "type": "nominal", "legend": null,
"scale": {"domain": ["北海道","秋田県","栃木県","長野県","岡山県","高知県","熊本県","宮崎県"], "range": ["#000000","#A77CA8","#FF9AA7","#EBC441","#BBB2AF","#4A7AAB","#CC0000","#55A051"]}}
}
},
{"width": 9, "height": 742, "data": {"values": []}, "mark": "point"},
{
"columns": 4, "spacing": 0, "bounds": "flush",
"concat": [
{"width": 148, "height": 22, "data": {"values": []}, "mark": "point"},
{"width": 102, "height": 22, "data": {"values": []}, "mark": "point"},
{"width": 102, "height": 22, "data": {"values": []}, "mark": "point"},
{"width": 105, "height": 22, "data": {"values": [{"t": "（単位：円/㎥）"}]}, "mark": {"type": "text", "align": "right", "baseline": "middle", "fontSize": 14, "color": "black"}, "encoding": {"text": {"field": "t"}, "x": {"value": 99}, "y": {"value": 8}}},
{"width": 148, "height": 74, "view": {"fill": "#DCE4F2", "stroke": "black", "strokeWidth": 2.5}, "data": {"values": [{"t": "都道府県"}]}, "mark": {"type": "text", "align": "center", "baseline": "middle", "fontSize": 25, "fontWeight": "bold", "color": "black"}, "encoding": {"text": {"field": "t"}, "x": {"value": 74}, "y": {"value": 38}}},
{"width": 102, "height": 74, "view": {"fill": "#DCE4F2", "stroke": "black", "strokeWidth": 2.5}, "data": {"values": [{"a": "2024年", "b": "直近", "c": "※"}]},
"layer": [
{"mark": {"type": "text", "align": "center", "baseline": "middle", "fontSize": 25, "fontWeight": "bold", "color": "black"}, "encoding": {"text": {"field": "a"}, "x": {"value": 51}, "y": {"value": 23}}},
{"mark": {"type": "text", "align": "center", "baseline": "middle", "fontSize": 25, "fontWeight": "bold", "color": "black"}, "encoding": {"text": {"field": "b"}, "x": {"value": 42}, "y": {"value": 54}}},
{"mark": {"type": "text", "align": "center", "baseline": "middle", "fontSize": 16, "fontWeight": "bold", "color": "#FF0000"}, "encoding": {"text": {"field": "c"}, "x": {"value": 85}, "y": {"value": 45}}}
]},
{"width": 102, "height": 74, "view": {"fill": "#DCE4F2", "stroke": "black", "strokeWidth": 2.5}, "data": {"values": [{"a": "前年", "b": "同期"}]},
"layer": [
{"mark": {"type": "text", "align": "center", "baseline": "middle", "fontSize": 25, "fontWeight": "bold", "color": "black"}, "encoding": {"text": {"field": "a"}, "x": {"value": 51}, "y": {"value": 23}}},
{"mark": {"type": "text", "align": "center", "baseline": "middle", "fontSize": 25, "fontWeight": "bold", "color": "black"}, "encoding": {"text": {"field": "b"}, "x": {"value": 51}, "y": {"value": 54}}}
]},
{"width": 105, "height": 74, "view": {"fill": "#DCE4F2", "stroke": "black", "strokeWidth": 2.5}, "data": {"values": [{"a": "前年", "b": "同期比"}]},
"layer": [
{"mark": {"type": "text", "align": "center", "baseline": "middle", "fontSize": 25, "fontWeight": "bold", "color": "black"}, "encoding": {"text": {"field": "a"}, "x": {"value": 52}, "y": {"value": 23}}},
{"mark": {"type": "text", "align": "center", "baseline": "middle", "fontSize": 25, "fontWeight": "bold", "color": "black"}, "encoding": {"text": {"field": "b"}, "x": {"value": 52}, "y": {"value": 54}}}
]},
{"width": 148, "height": 338, "view": {"fill": "white", "stroke": "black", "strokeWidth": 2.5}, "data": {"name": "tbl"},
"encoding": {"y": {"field": "p", "type": "nominal", "sort": null, "axis": null, "scale": {"type": "band", "domain": ["北海道","秋田県","栃木県","長野県","岡山県","高知県","熊本県","宮崎県"], "paddingInner": 0, "paddingOuter": 0}}},
"layer": [
{"mark": {"type": "rule", "color": "black", "strokeWidth": 2.5}, "encoding": {"y": {"field": "p", "type": "nominal", "bandPosition": 0}}},
{"mark": {"type": "square", "size": 340, "filled": true, "opacity": 1}, "encoding": {"x": {"value": 21}, "color": {"field": "p", "type": "nominal", "legend": null, "scale": {"domain": ["北海道","秋田県","栃木県","長野県","岡山県","高知県","熊本県","宮崎県"], "range": ["#000000","#A77CA8","#FF9AA7","#EBC441","#BBB2AF","#4A7AAB","#CC0000","#55A051"]}}}},
{"mark": {"type": "text", "align": "left", "baseline": "middle", "fontSize": 25, "fontWeight": "bold", "color": "black"}, "encoding": {"x": {"value": 46}, "text": {"field": "p"}}},
{"data": {"values": [{"k": "note"}]}, "mark": {"type": "text", "align": "left", "baseline": "middle", "fontSize": 17, "lineHeight": 21.5, "color": "black"}, "encoding": {"y": {"value": 379}, "text": {"value": ["※北海道については１月、秋田県、栃木県、長野県、", "岡山県、高知県、熊本県及び宮崎県については２月の", "値を使用。"]}, "x": {"value": 9}}}
]},
{"width": 102, "height": 338, "view": {"fill": "white", "stroke": "black", "strokeWidth": 2.5}, "data": {"name": "tbl"},
"encoding": {"y": {"field": "p", "type": "nominal", "sort": null, "axis": null, "scale": {"type": "band", "domain": ["北海道","秋田県","栃木県","長野県","岡山県","高知県","熊本県","宮崎県"], "paddingInner": 0, "paddingOuter": 0}}},
"layer": [
{"mark": {"type": "rule", "color": "black", "strokeWidth": 2.5}, "encoding": {"y": {"field": "p", "type": "nominal", "bandPosition": 0}}},
{"mark": {"type": "text", "align": "right", "baseline": "middle", "fontSize": 25, "fontWeight": "bold", "color": "black"}, "encoding": {"x": {"value": 96}, "text": {"field": "latest", "type": "quantitative", "format": ","}}}
]},
{"width": 102, "height": 338, "view": {"fill": "white", "stroke": "black", "strokeWidth": 2.5}, "data": {"name": "tbl"},
"encoding": {"y": {"field": "p", "type": "nominal", "sort": null, "axis": null, "scale": {"type": "band", "domain": ["北海道","秋田県","栃木県","長野県","岡山県","高知県","熊本県","宮崎県"], "paddingInner": 0, "paddingOuter": 0}}},
"layer": [
{"mark": {"type": "rule", "color": "black", "strokeWidth": 2.5}, "encoding": {"y": {"field": "p", "type": "nominal", "bandPosition": 0}}},
{"mark": {"type": "text", "align": "right", "baseline": "middle", "fontSize": 25, "fontWeight": "normal", "color": "black"}, "encoding": {"x": {"value": 93}, "text": {"field": "prev", "type": "quantitative", "format": ","}}}
]},
{"width": 105, "height": 338, "view": {"fill": "white", "stroke": "black", "strokeWidth": 2.5}, "data": {"name": "tbl"},
"encoding": {"y": {"field": "p", "type": "nominal", "sort": null, "axis": null, "scale": {"type": "band", "domain": ["北海道","秋田県","栃木県","長野県","岡山県","高知県","熊本県","宮崎県"], "paddingInner": 0, "paddingOuter": 0}}},
"layer": [
{"mark": {"type": "rule", "color": "black", "strokeWidth": 2.5}, "encoding": {"y": {"field": "p", "type": "nominal", "bandPosition": 0}}},
{"mark": {"type": "text", "align": "right", "baseline": "middle", "fontSize": 25, "fontWeight": "bold", "color": "#FF0000"}, "encoding": {"x": {"value": 96}, "text": {"field": "ratio", "type": "quantitative", "format": ".0%"}}}
]}
]
}
], "spacing": 0, "bounds": "flush"}
]
}
